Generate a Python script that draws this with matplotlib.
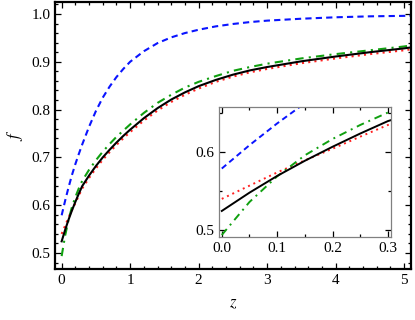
import matplotlib
matplotlib.use("Agg")
import matplotlib.pyplot as plt
from matplotlib.ticker import MultipleLocator

plt.rcParams['font.family'] = ['Liberation Serif', 'DejaVu Serif']
plt.rcParams['mathtext.fontset'] = 'stix'

# values
z = [0, 0.05, 0.1, 0.15, 0.2, 0.25, 0.3,
     0.4, 0.5, 0.6, 0.7, 0.8, 0.9, 1.0,
     1.2, 1.4, 1.6, 1.8, 2.0,
     2.25, 2.5, 2.75, 3.0,
     3.5, 4.0, 4.5, 5.0, 5.1]
f_black = [0.5245, 0.548, 0.5695, 0.589, 0.607, 0.624, 0.640,
           0.662, 0.682, 0.700, 0.716, 0.731, 0.745, 0.758,
           0.782, 0.803, 0.821, 0.836, 0.849,
           0.862, 0.873, 0.882, 0.889,
           0.901, 0.911, 0.920, 0.928, 0.930]
f_red = [0.540, 0.557, 0.574, 0.5895, 0.6045, 0.620, 0.635,
         0.657, 0.677, 0.695, 0.711, 0.726, 0.740, 0.753,
         0.777, 0.798, 0.816, 0.831, 0.844,
         0.858, 0.869, 0.878, 0.885,
         0.897, 0.907, 0.916, 0.924, 0.926]
f_green = [0.4936, 0.536, 0.569, 0.596, 0.617, 0.635, 0.651,
           0.674, 0.694, 0.712, 0.728, 0.743, 0.756, 0.769,
           0.793, 0.814, 0.831, 0.846, 0.858,
           0.870, 0.881, 0.889, 0.896,
           0.907, 0.916, 0.924, 0.932, 0.934]
f_blue = [0.579, 0.609, 0.637, 0.663, 0.686, 0.707, 0.727,
          0.764, 0.797, 0.825, 0.848, 0.868, 0.885, 0.900,
          0.922, 0.939, 0.951, 0.960, 0.967,
          0.974, 0.979, 0.983, 0.986,
          0.990, 0.993, 0.995, 0.996, 0.9965]


def draw(ax, lw):
    ax.plot(z, f_blue, color='#0a14ff', ls=(0, (3, 2)), lw=lw)
    ax.plot(z, f_red, color='#ff2020', ls=(0, (1, 2)), lw=lw)
    ax.plot(z, f_green, color='#10a010', ls=(0, (4, 2.5, 1, 2.5)), lw=lw)
    ax.plot(z, f_black, color='black', lw=lw)


def style(ax, spine_color, spine_w):
    for s in ax.spines.values():
        s.set_color(spine_color)
        s.set_linewidth(spine_w)
    ax.tick_params(which='both', direction='in', top=True, right=True,
                   labelsize=11, width=0.9)
    ax.tick_params(which='major', length=4)
    ax.tick_params(which='minor', length=2)


fig = plt.figure(figsize=(4.15, 3.2), dpi=100)
ax = fig.add_axes([0.1337, 0.1584, 0.8566, 0.8354])
draw(ax, 1.5)
ax.set_xlim(-0.09, 5.1)
ax.set_ylim(0.466, 1.025)
ax.xaxis.set_major_locator(MultipleLocator(1))
ax.xaxis.set_minor_locator(MultipleLocator(0.2))
ax.yaxis.set_major_locator(MultipleLocator(0.1))
ax.yaxis.set_minor_locator(MultipleLocator(0.02))
ax.set_xlabel('$z$', fontsize=12, labelpad=6)
ax.set_ylabel('$f$', fontsize=12, labelpad=5)
style(ax, 'black', 1.6)

ins = fig.add_axes([0.5284, 0.2603, 0.4137, 0.4063])
draw(ins, 1.4)
ins.set_xlim(-0.0045, 0.3055)
ins.set_ylim(0.4914, 0.6585)
ins.xaxis.set_major_locator(MultipleLocator(0.1))
ins.xaxis.set_minor_locator(MultipleLocator(0.05))
ins.yaxis.set_major_locator(MultipleLocator(0.1))
ins.yaxis.set_minor_locator(MultipleLocator(0.05))
ins.xaxis.set_major_formatter(lambda v, p: f'{v:.1f}')
style(ins, '#808080', 0.9)

fig.savefig('out.png', dpi=100)
